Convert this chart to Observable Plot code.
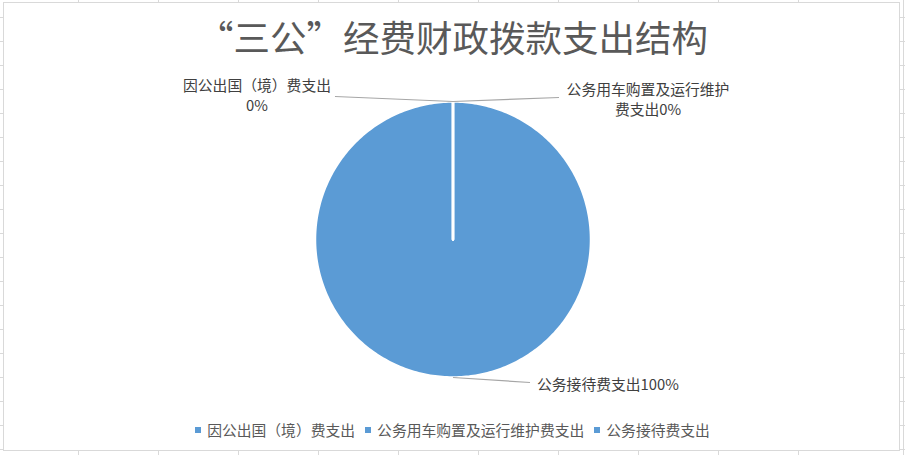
<!DOCTYPE html>
<html>
<head>
<meta charset="utf-8">
<script src="https://cdn.jsdelivr.net/npm/d3@7"></script>
<script src="https://cdn.jsdelivr.net/npm/@observablehq/plot@0.6"></script>
<style>
  html, body { margin: 0; padding: 0; }
  body {
    width: 905px; height: 455px; overflow: hidden; position: relative;
    background-color: #fff;
    background-image:
      repeating-linear-gradient(to right, transparent 0, transparent 78px, #D9D9D9 78px, #D9D9D9 79px, transparent 79px, transparent 80px),
      repeating-linear-gradient(to bottom, transparent 0, transparent 17px, #D9D9D9 17px, #D9D9D9 18px, transparent 18px, transparent 24px);
    background-position: -80px 0, 0 0;
    font-family: "Noto Sans CJK SC", "Noto Sans", sans-serif;
  }
  #chart {
    position: absolute; left: 3px; top: 2px; width: 897px; height: 449px;
    background: #fff; border: 1px solid #D9D9D9; box-sizing: border-box;
  }
  #title {
    position: absolute; left: 0; top: 13px; width: 905px; text-align: center;
    font-size: 36.5px; line-height: 48px; color: #595959; letter-spacing: 0px;
  }
  #plot { position: absolute; left: 0; top: 62px; }
  #legend {
    position: absolute; left: 0; top: 419px; width: 905px;
    display: flex; justify-content: center; align-items: center;
    font-size: 14.8px; color: #595959; line-height: 22px;
  }
  .item { display: flex; align-items: center; margin: 0 5px; }
  .sw { width: 6px; height: 6px; margin-right: 6px; }
</style>
</head>
<body>
<div id="chart"></div>
<div id="title"></div>
<div id="plot"></div>
<div id="legend"></div>
<script>
// ---- data ----
const title = "“三公”经费财政拨款支出结构";
const categories = ["因公出国（境）费支出", "公务用车购置及运行维护费支出", "公务接待费支出"];
const values = [0, 0, 100];
const percentLabels = ["0%", "0%", "100%"];
const labelTexts = ["因公出国（境）费支出\n0%", "公务用车购置及运行维护\n费支出0%", "公务接待费支出100%"];

// ---- layout / style ----
const color = "#5B9BD5";
const W = 905, H = 354, R = 138;          // svg size, pie radius in px
const xd = (W / 2) / R, yd = (H / 2) / R; // domain half-extents (radius = 1 unit)
// leader line end offsets (px) from slice anchor, and label offsets (px) from leader end
const leader = [
  {ox: -118, oy: 5, dx: -78, dy: -1.5, anchor: "middle"},
  {ox: 106, oy: 4, dx: 89, dy: 1, anchor: "middle"},
  {ox: 77, oy: -5, dx: 7, dy: 1, anchor: "start"}
];

document.getElementById("title").textContent = title;

// pie geometry from the data
const arcs = d3.pie().sort(null).value(d => d)(values);
const slicePts = [];
arcs.forEach((a, i) => {
  slicePts.push({x: 0, y: 0, k: categories[i]});
  const n = Math.max(1, Math.ceil((a.endAngle - a.startAngle) / (Math.PI / 180)));
  for (let j = 0; j <= n; j++) {
    const t = a.startAngle + (a.endAngle - a.startAngle) * j / n;
    slicePts.push({x: Math.sin(t), y: Math.cos(t), k: categories[i]});
  }
  slicePts.push({x: 0, y: 0, k: categories[i]});
});
const bigFirst = [...categories].sort((p, q) => values[categories.indexOf(q)] - values[categories.indexOf(p)]);
const ordered = bigFirst.flatMap(k => slicePts.filter(p => p.k === k));

const labels = arcs.map((a, i) => {
  const m = (a.startAngle + a.endAngle) / 2;
  const x1 = Math.sin(m), y1 = Math.cos(m);
  const L = leader[i];
  return {x1, y1, x2: x1 + L.ox / R, y2: y1 + L.oy / R, text: labelTexts[i], dx: L.dx, dy: L.dy, anchor: L.anchor};
});

const plot = Plot.plot({
  width: W, height: H,
  margin: 0,
  x: {domain: [-xd, xd], axis: null},
  y: {domain: [-yd, yd], axis: null},
  style: {fontFamily: "'Noto Sans CJK SC', sans-serif", background: "transparent"},
  marks: [
    Plot.line(ordered, {x: "x", y: "y", z: "k", fill: color, stroke: "white", strokeWidth: 2.5, curve: "linear"}),
    Plot.link(labels, {x1: "x1", y1: "y1", x2: "x2", y2: "y2", stroke: "#A6A6A6", strokeWidth: 1.2}),
    ...labels.map(l => Plot.text([l], {x: "x2", y: "y2", text: "text", dx: l.dx, dy: l.dy,
      textAnchor: l.anchor, fontSize: 14.8, lineHeight: 1.32, fill: "#404040"}))
  ]
});
document.getElementById("plot").appendChild(plot);

// legend
const lg = document.getElementById("legend");
categories.forEach(c => {
  const it = document.createElement("div"); it.className = "item";
  const sw = document.createElement("div"); sw.className = "sw"; sw.style.background = color;
  const tx = document.createElement("span"); tx.textContent = c;
  it.appendChild(sw); it.appendChild(tx); lg.appendChild(it);
});
</script>
</body>
</html>
